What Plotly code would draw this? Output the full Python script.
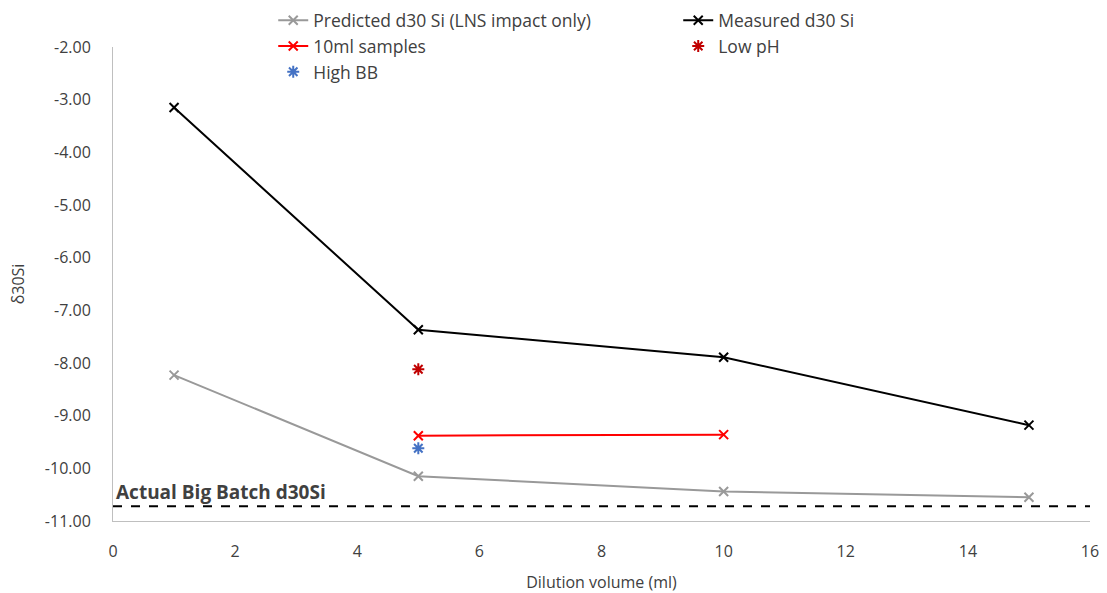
import plotly.graph_objects as go

# Dilution volumes (ml)
volume = [1, 5, 10, 15]
predicted = [-8.23, -10.15, -10.44, -10.55]
measured = [-3.15, -7.37, -7.89, -9.18]

volume_10ml = [5, 10]
samples_10ml = [-9.38, -9.36]

volume_low_ph = [5]
low_ph = [-8.12]

volume_high_bb = [5]
high_bb = [-9.62]

big_batch = -10.72
big_batch_label = "Actual Big Batch d30Si"

y_ticks = [-2, -3, -4, -5, -6, -7, -8, -9, -10, -11]
x_ticks = [0, 2, 4, 6, 8, 10, 12, 14, 16]

FONT = "Open Sans"
TEXT = "#404040"
GRAY_AXIS = "#BFBFBF"

fig = go.Figure()

fig.add_trace(go.Scatter(
    x=volume, y=predicted, name="Predicted d30 Si (LNS impact only)",
    mode="lines+markers",
    line=dict(color="#999999", width=2),
    marker=dict(symbol="x-thin", size=9, color="#999999", line=dict(color="#999999", width=2)),
))
fig.add_trace(go.Scatter(
    x=volume, y=measured, name="Measured d30 Si",
    mode="lines+markers",
    line=dict(color="#000000", width=2),
    marker=dict(symbol="x-thin", size=9, color="#000000", line=dict(color="#000000", width=2)),
))
fig.add_trace(go.Scatter(
    x=volume_10ml, y=samples_10ml, name="10ml samples",
    mode="lines+markers",
    line=dict(color="#FF0000", width=2),
    marker=dict(symbol="x-thin", size=9, color="#FF0000", line=dict(color="#FF0000", width=2)),
))
fig.add_trace(go.Scatter(
    x=volume_low_ph, y=low_ph, name="Low pH",
    mode="markers",
    marker=dict(symbol="asterisk-open", size=10, color="#C00000", line=dict(color="#C00000", width=2)),
))
fig.add_trace(go.Scatter(
    x=volume_high_bb, y=high_bb, name="High BB",
    mode="markers",
    marker=dict(symbol="asterisk-open", size=10, color="#4472C4", line=dict(color="#4472C4", width=2)),
))

# Reference level of the big batch
fig.add_shape(
    type="line", xref="paper", x0=0, x1=1, yref="y", y0=big_batch, y1=big_batch,
    line=dict(color="#000000", width=2, dash="dash"),
)
fig.add_annotation(
    xref="paper", x=0.001, y=big_batch, yref="y",
    text="<b>" + big_batch_label + "</b>", showarrow=False,
    xanchor="left", yanchor="bottom", yshift=-1,
    font=dict(family=FONT, size=19, color=TEXT),
)

fig.update_layout(
    width=1107, height=593,
    margin=dict(l=113, r=17, t=47, b=72, autoexpand=False),
    paper_bgcolor="white", plot_bgcolor="white",
    font=dict(family=FONT, size=16, color=TEXT),
    showlegend=True,
    legend=dict(
        orientation="h", x=0.164, xanchor="left", y=1.094, yanchor="top",
        entrywidth=360, entrywidthmode="pixels",
        font=dict(family=FONT, size=17.5, color=TEXT),
        bgcolor="rgba(0,0,0,0)", traceorder="normal",
    ),
    xaxis=dict(
        range=[0, 16], tickvals=x_ticks, ticktext=[str(v) for v in x_ticks],
        showgrid=False, zeroline=False, automargin=False,
        showline=True, linecolor=GRAY_AXIS, linewidth=1,
        ticks="", ticklabelstandoff=16,
        title=dict(text="Dilution volume (ml)", standoff=16,
                   font=dict(family=FONT, size=16, color=TEXT)),
    ),
    yaxis=dict(
        range=[-11, -2], tickvals=y_ticks, ticktext=[f"{v:.2f}" for v in y_ticks],
        showgrid=False, zeroline=False, automargin=False,
        showline=True, linecolor=GRAY_AXIS, linewidth=1,
        ticks="", ticklabelstandoff=18,
        title=dict(text="δ30Si", standoff=16,
                   font=dict(family=FONT, size=16, color=TEXT)),
    ),
)

fig.write_html("out.html")
